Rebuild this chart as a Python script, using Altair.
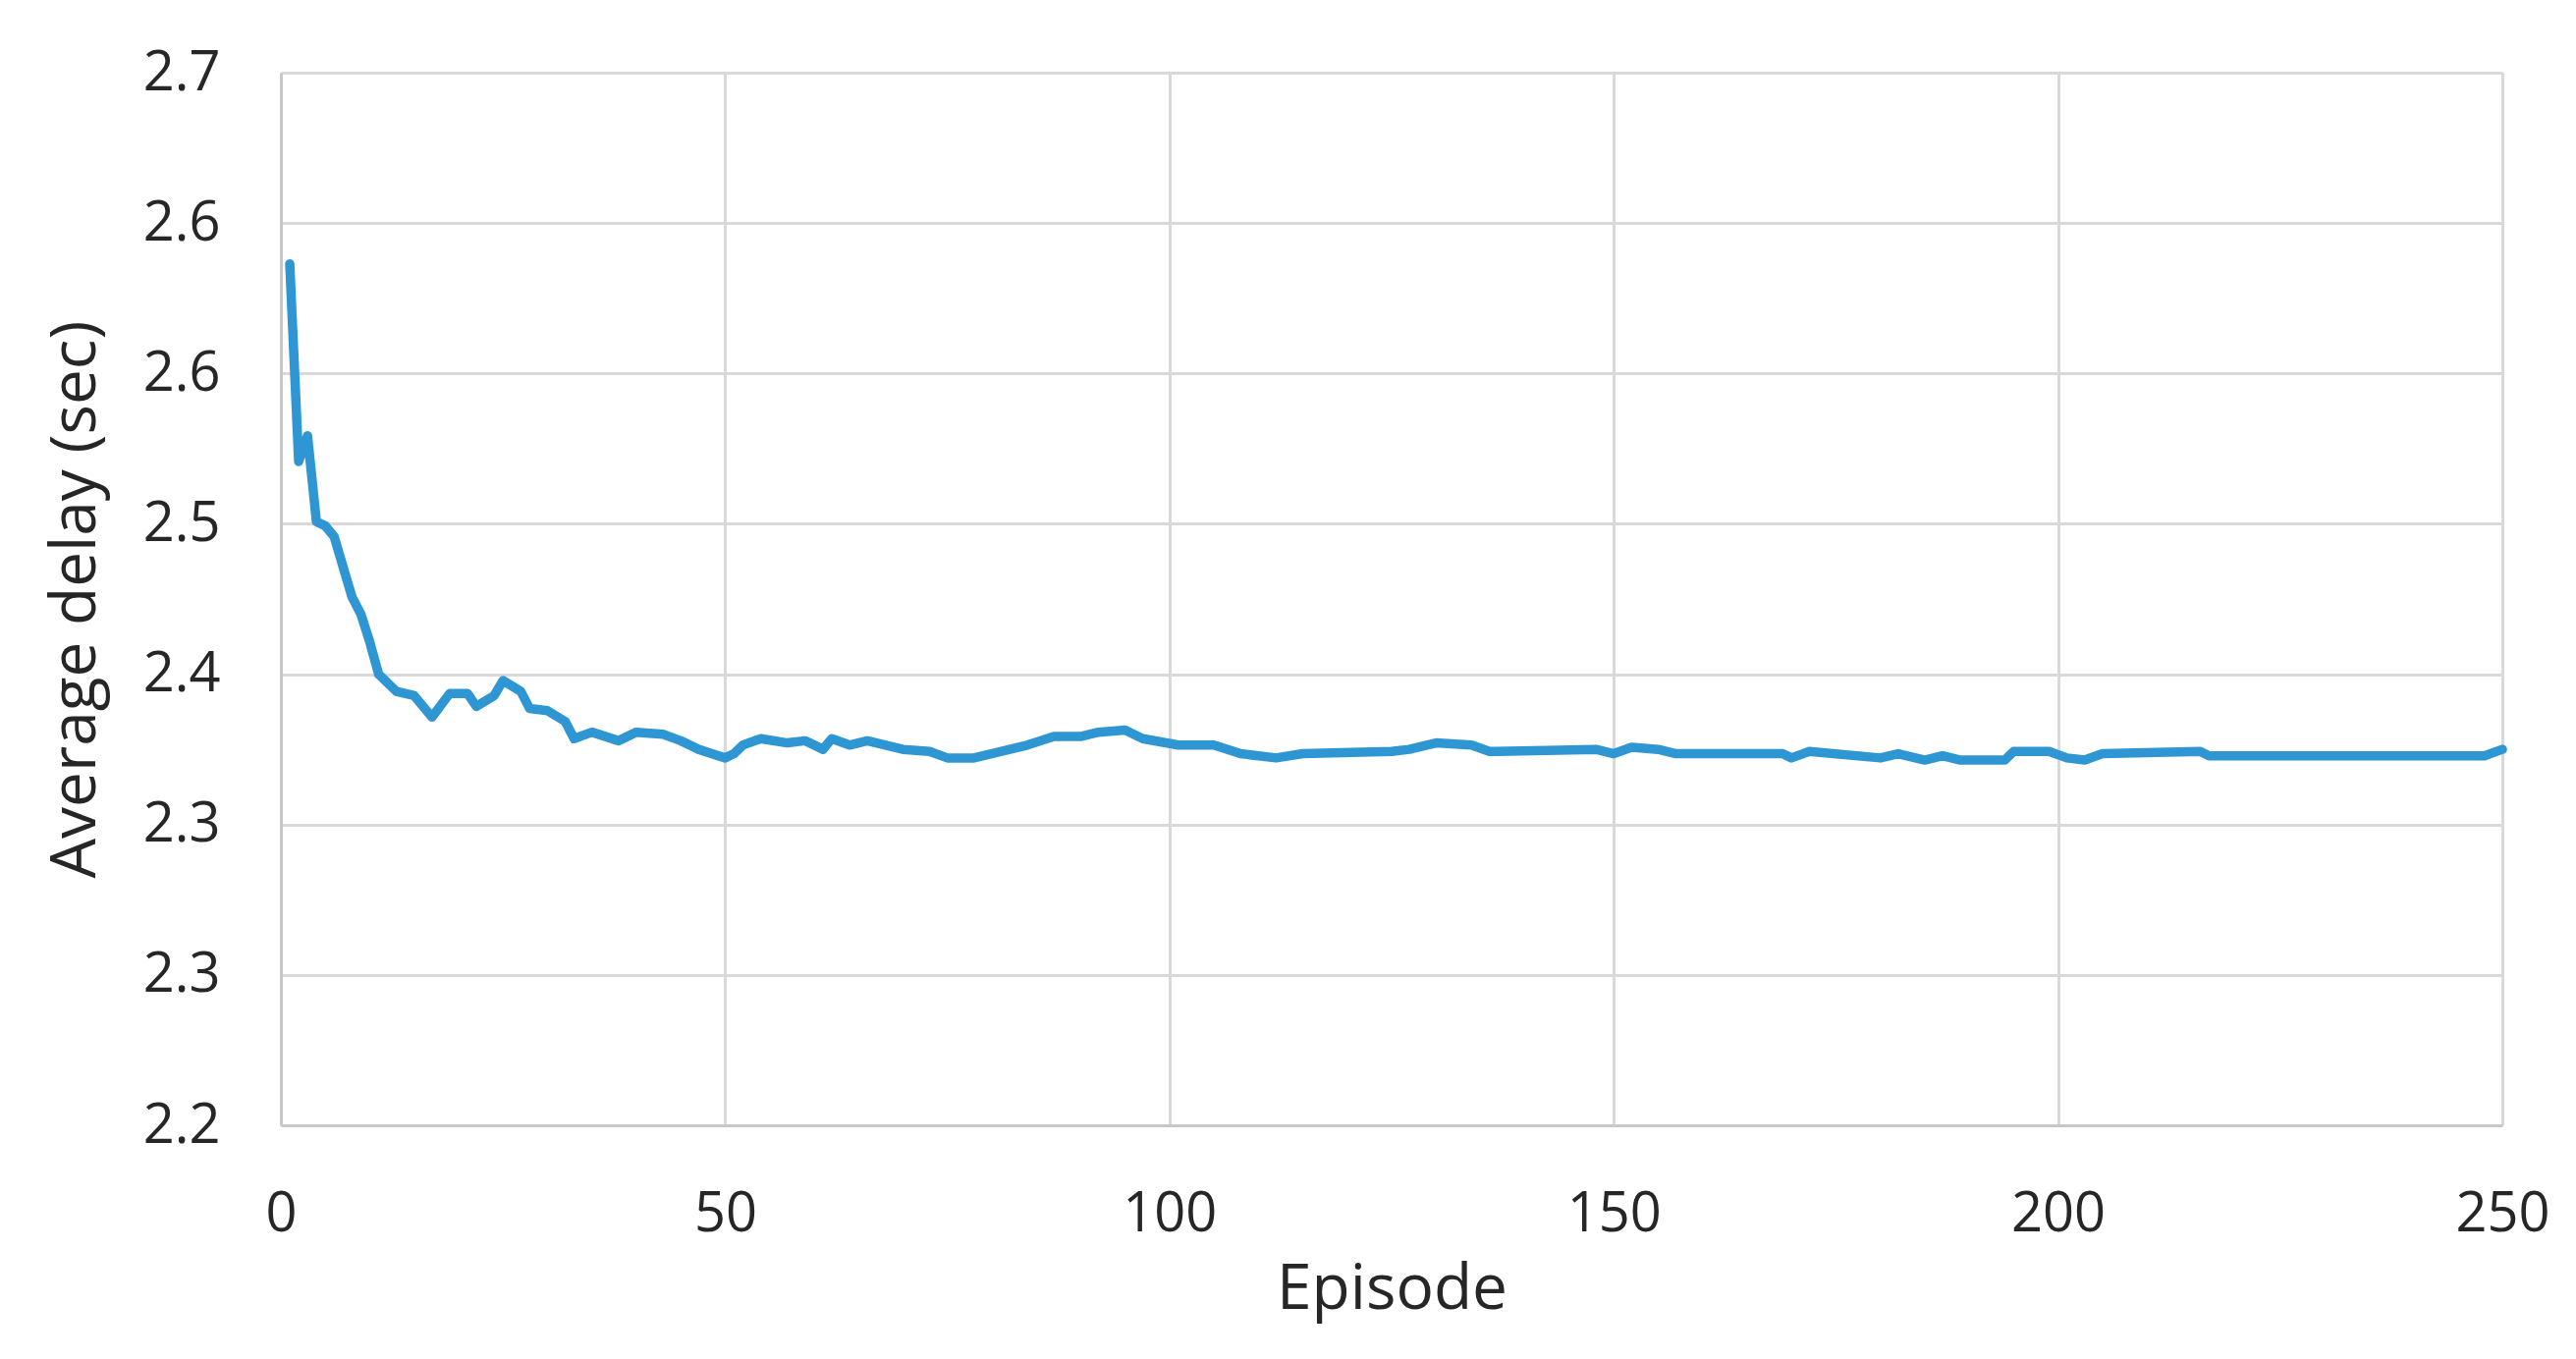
import altair as alt
import pandas as pd

# Data
episodes = [1, 2, 3, 4, 5, 6, 8, 9, 10, 11, 13, 15, 17, 19, 21, 22, 24, 25, 27, 28,
            30, 32, 33, 35, 38, 40, 43, 45, 47, 50, 51, 52, 54, 57, 59, 61, 62, 64, 66, 70,
            73, 75, 78, 81, 84, 87, 90, 92, 95, 97, 101, 105, 108, 112, 115, 125, 127, 130, 134, 136,
            148, 150, 152, 155, 157, 169, 170, 172, 180, 182, 185, 187, 189, 194, 195, 199, 201, 203, 205, 216,
            217, 248, 250]
delays = [2.601, 2.509, 2.521, 2.481, 2.479, 2.474, 2.446, 2.438, 2.425, 2.410, 2.402, 2.400, 2.390, 2.401, 2.401, 2.395, 2.400, 2.407, 2.402, 2.394,
          2.393, 2.388, 2.380, 2.383, 2.379, 2.383, 2.382, 2.379, 2.375, 2.371, 2.373, 2.377, 2.380, 2.378, 2.379, 2.375, 2.380, 2.377, 2.379, 2.375,
          2.374, 2.371, 2.371, 2.374, 2.377, 2.381, 2.381, 2.383, 2.384, 2.380, 2.377, 2.377, 2.373, 2.371, 2.373, 2.374, 2.375, 2.378, 2.377, 2.374,
          2.375, 2.373, 2.376, 2.375, 2.373, 2.373, 2.371, 2.374, 2.371, 2.373, 2.370, 2.372, 2.370, 2.370, 2.374, 2.374, 2.371, 2.370, 2.373, 2.374,
          2.372, 2.372, 2.375]

x_ticks = [0, 50, 100, 150, 200, 250]
y_ticks = [2.20, 2.27, 2.34, 2.41, 2.48, 2.55, 2.62, 2.69]
y_tick_labels = ["2.2", "2.3", "2.3", "2.4", "2.5", "2.6", "2.6", "2.7"]

df = pd.DataFrame({"Episode": episodes, "Delay": delays})

label_map = "{" + ", ".join(f"'{v:.2f}': '{l}'" for v, l in zip(y_ticks, y_tick_labels)) + "}"
y_label_expr = f"{label_map}[format(datum.value, '.2f')]"

FONT = "Open Sans"
TXT = "#262626"

chart = alt.Chart(df).mark_line(
    color="#2F96D4", strokeWidth=9.5, strokeJoin="round", strokeCap="round"
).encode(
    x=alt.X("Episode:Q",
            scale=alt.Scale(domain=[0, 250], nice=False, zero=False),
            axis=alt.Axis(values=x_ticks, title="Episode", grid=True,
                          ticks=False, tickSize=0, labelPadding=107,
                          labelBaseline="alphabetic", labelFontSize=56,
                          titleFontSize=64, titleFontWeight="normal",
                          titleBaseline="alphabetic", titleY=186)),
    y=alt.Y("Delay:Q",
            scale=alt.Scale(domain=[2.2, 2.69], nice=False, zero=False),
            axis=alt.Axis(values=y_ticks, labelExpr=y_label_expr,
                          title="Average delay (sec)", grid=True,
                          ticks=False, tickSize=0, labelPadding=62,
                          labelFontSize=56, titleFontSize=64,
                          titleFontWeight="normal", titleBaseline="alphabetic",
                          titleX=-190)),
).properties(
    width=2262, height=1072,
    autosize=alt.AutoSizeParams(type="none"),
    padding={"left": 278, "top": 66, "right": 60, "bottom": 220},
    background="white",
).configure_view(
    stroke=None
).configure_axis(
    labelFont=FONT, titleFont=FONT, labelColor=TXT, titleColor=TXT,
    gridColor="#D9D9D9", gridWidth=3, domainColor="#C8C8C8", domainWidth=3,
    labelFlush=False, labelOverlap=False,
)

chart.save("out.html", embed_options={"renderer": "svg", "actions": False})
